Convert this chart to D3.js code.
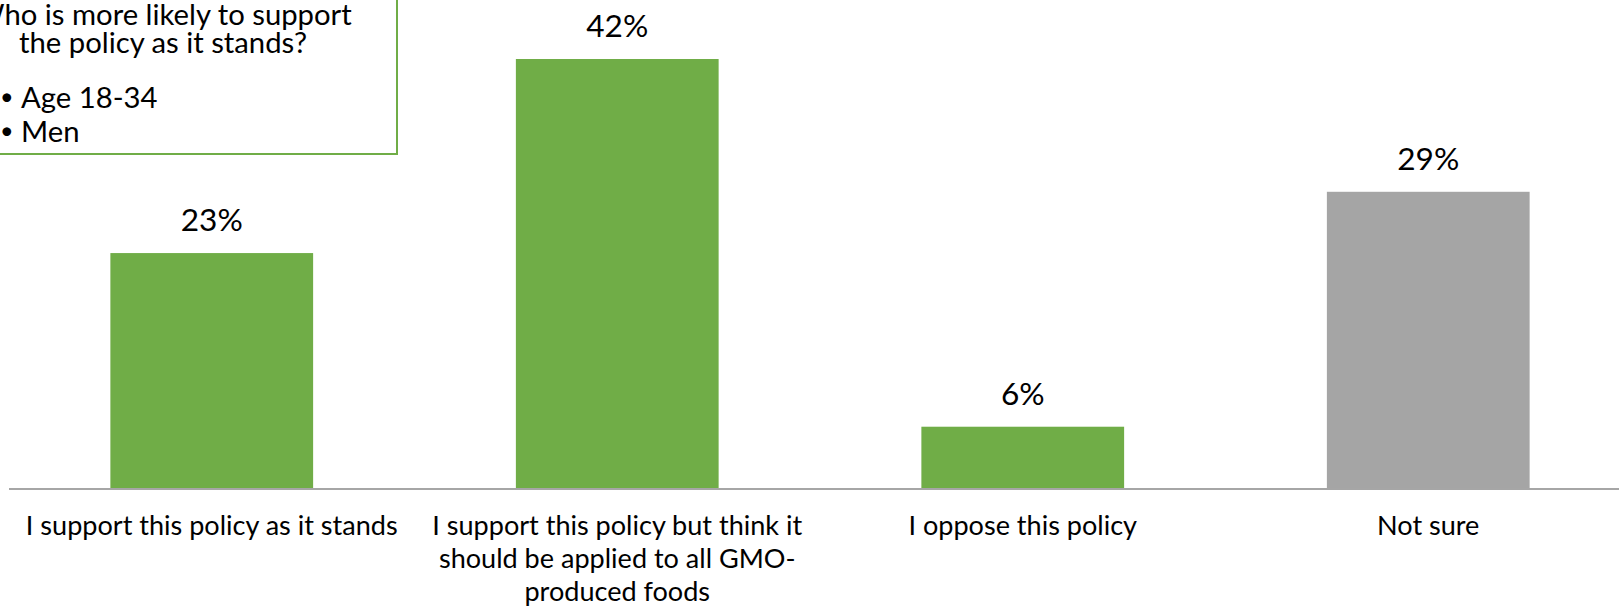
<!DOCTYPE html>
<html>
<head>
<meta charset="utf-8">
<script src="https://cdn.jsdelivr.net/npm/d3@7"></script>
<style>
  html, body { margin: 0; padding: 0; background: #fff; overflow: hidden; }
  svg { display: block; }
  text { font-family: Lato, "Open Sans", sans-serif; fill: #000; }
</style>
</head>
<body>
<svg id="chart" width="1619" height="610"></svg>
<script>
// ---- data ----
const categories = [
  "I support this policy as it stands",
  "I support this policy but think it\nshould be applied to all GMO-\nproduced foods",
  "I oppose this policy",
  "Not sure"
];
const values = [23, 42, 6, 29];
const valueLabels = ["23%", "42%", "6%", "29%"];
const barColors = ["#70AD47", "#70AD47", "#70AD47", "#A5A5A5"];
const noteTitle = ["Who is more likely to support", "the policy as it stands?"];
const noteBullets = ["Age 18-34", "Men"];

// ---- layout ----
const W = 1619, H = 610;
const baseY = 488;
const svg = d3.select("#chart");

// fit font sizes so text widths match the reference (Calibri-like metrics)
function fit(str, target) {
  const p = svg.append("text").style("font-size", "30px").text(str);
  const w = p.node().getComputedTextLength();
  p.remove();
  return 30 * target / w;
}
const fs = fit(categories[0], 372);
const fsVal = fit("42%", 62);
const fsNote = fit(noteTitle[1], 288);

const x = d3.scaleBand()
  .domain(categories)
  .range([9, 1631])
  .paddingInner(0.5)
  .paddingOuter(0.25);

const y = d3.scaleLinear()
  .domain([0, 45])
  .range([baseY, baseY - 45 * (429 / 42)]);

// bars
svg.append("g").selectAll("rect")
  .data(values)
  .join("rect")
  .attr("x", (d, i) => x(categories[i]))
  .attr("width", x.bandwidth())
  .attr("y", d => y(d))
  .attr("height", d => y(0) - y(d))
  .attr("fill", (d, i) => barColors[i]);

// value labels
svg.append("g").selectAll("text")
  .data(values)
  .join("text")
  .attr("x", (d, i) => x(categories[i]) + x.bandwidth() / 2)
  .attr("y", d => y(d) - 22)
  .attr("text-anchor", "middle")
  .style("font-size", fsVal + "px")
  .text((d, i) => valueLabels[i]);

// x axis baseline
const axis = d3.axisBottom(x).tickSize(0).tickFormat("");
const axisG = svg.append("g")
  .attr("transform", `translate(0,${baseY + 1})`)
  .call(axis);
axisG.select(".domain")
  .attr("d", `M9,0H${W}`)
  .attr("stroke", "#A6A6A6")
  .attr("stroke-width", 2);

// category labels
const catG = svg.append("g");
categories.forEach((c, i) => {
  const t = catG.append("text")
    .attr("text-anchor", "middle")
    .style("font-size", fs + "px");
  c.split("\n").forEach((line, j) => {
    t.append("tspan")
      .attr("x", x(c) + x.bandwidth() / 2)
      .attr("y", 535 + j * 33)
      .text(line);
  });
});

// note box
const note = svg.append("g");
note.append("rect")
  .attr("x", -20).attr("y", -20)
  .attr("width", 20 + 397).attr("height", 20 + 154)
  .attr("fill", "#fff")
  .attr("stroke", "#70AD47")
  .attr("stroke-width", 2);
const titleY = [25, 53];
noteTitle.forEach((line, j) => {
  note.append("text")
    .attr("x", 163).attr("y", titleY[j])
    .attr("text-anchor", "middle")
    .style("font-size", fsNote + "px")
    .text(line);
});
const bulletY = [108, 142];
noteBullets.forEach((line, j) => {
  note.append("text")
    .attr("x", 0).attr("y", bulletY[j] - 3)
    .style("font-size", (fsNote * 0.8) + "px")
    .text("\u2022");
  note.append("text")
    .attr("x", 21).attr("y", bulletY[j])
    .style("font-size", fsNote + "px")
    .text(line);
});
</script>
</body>
</html>
